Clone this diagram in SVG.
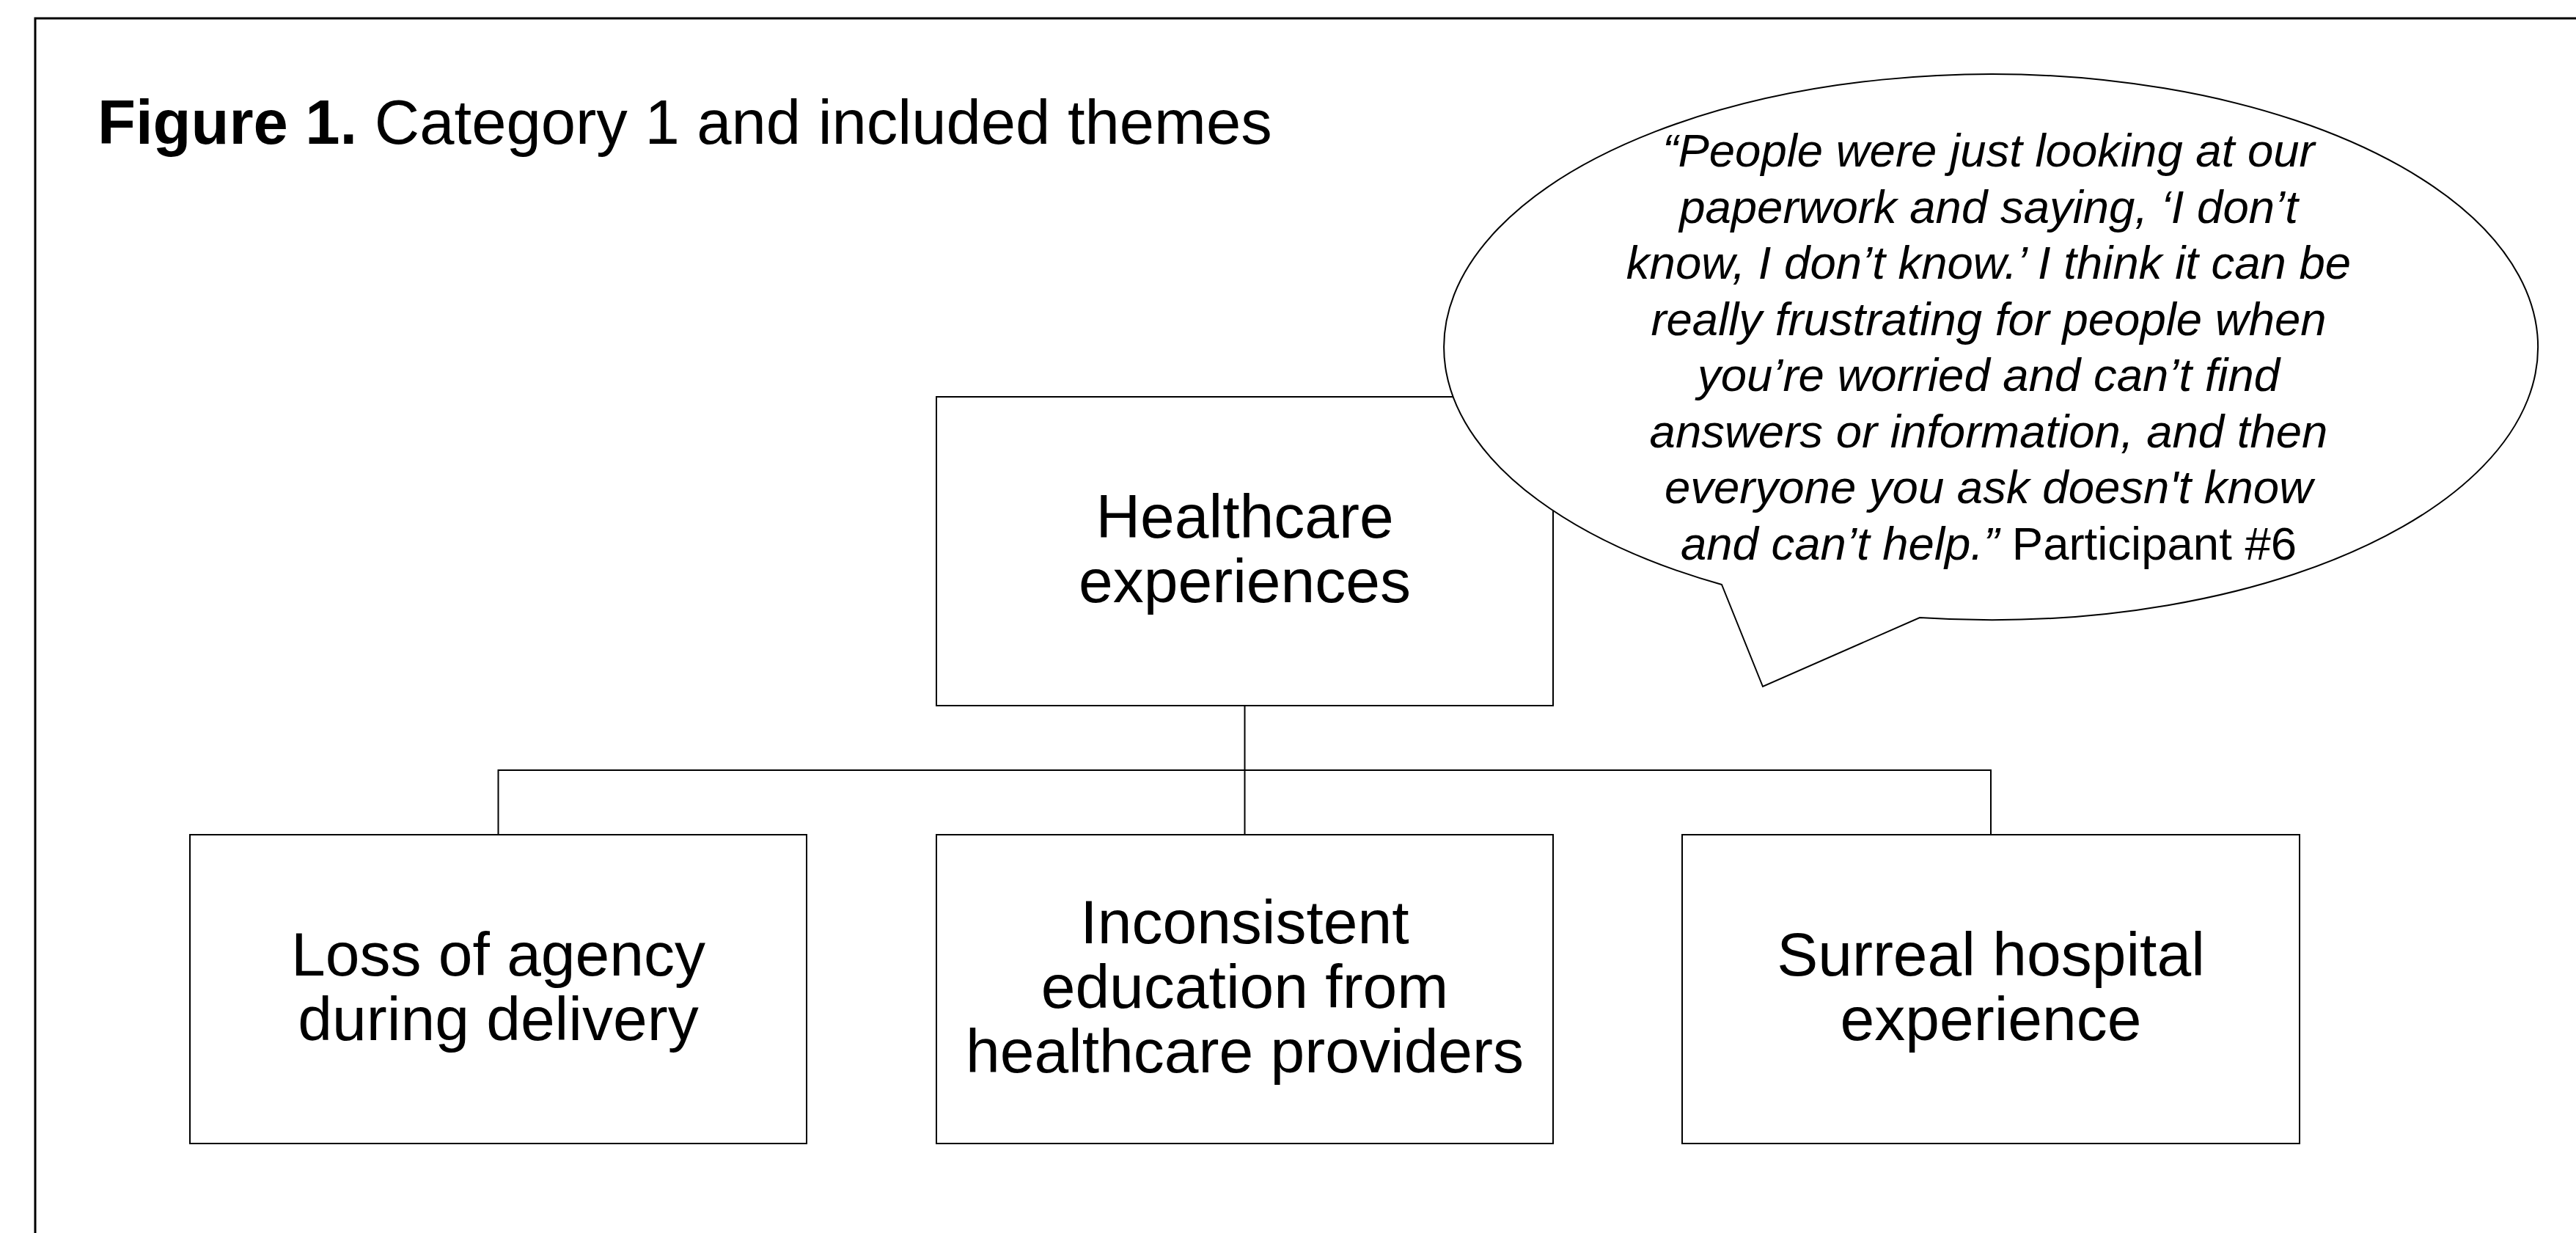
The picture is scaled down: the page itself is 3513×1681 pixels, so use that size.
<svg xmlns="http://www.w3.org/2000/svg" width="3513" height="1681" viewBox="0 0 3513 1681">
  <style>
    .frame { fill: none; stroke: #000; stroke-width: 3; }
    .box { fill: #fff; stroke: #000; stroke-width: 2; }
    .wire { fill: none; stroke: #000; stroke-width: 2; }
    .bubble { fill: #fff; stroke: #000; stroke-width: 2; }
    .label { font-family: "Liberation Sans", Arial, sans-serif; font-size: 84px; fill: #000; text-anchor: middle; }
    .title { font-family: "Liberation Sans", Arial, sans-serif; font-size: 85px; fill: #000; }
    .quote { font-family: "Liberation Sans", Arial, sans-serif; font-size: 63.5px; fill: #000; text-anchor: middle; font-style: italic; }
  </style>

  <rect x="0" y="0" width="3513" height="1681" fill="#fff"/>
  <!-- outer frame (right and bottom edges run past the canvas) -->
  <rect class="frame" x="48" y="25" width="3500" height="1700"/>

  <text class="title" x="133" y="196"><tspan font-weight="bold">Figure 1.</tspan> Category 1 and included themes</text>

  <!-- tree connectors -->
  <g id="connectors">
    <path class="wire" d="M1697.5,962 V1138 M679.5,1138 V1050 H2715 V1138"/>
  </g>

  <g id="node-healthcare">
    <rect class="box" x="1277" y="541" width="841" height="421"/>
    <text class="label" x="1697.5" y="733">Healthcare</text>
    <text class="label" x="1697.5" y="821">experiences</text>
  </g>

  <g id="node-agency">
    <rect class="box" x="259" y="1138" width="841" height="421"/>
    <text class="label" x="679.5" y="1330">Loss of agency</text>
    <text class="label" x="679.5" y="1418">during delivery</text>
  </g>

  <g id="node-education">
    <rect class="box" x="1277" y="1138" width="841" height="421"/>
    <text class="label" x="1697.5" y="1286">Inconsistent</text>
    <text class="label" x="1697.5" y="1374">education from</text>
    <text class="label" x="1697.5" y="1462">healthcare providers</text>
  </g>

  <g id="node-surreal">
    <rect class="box" x="2294" y="1138" width="842" height="421"/>
    <text class="label" x="2715" y="1330">Surreal hospital</text>
    <text class="label" x="2715" y="1418">experience</text>
  </g>

  <!-- speech bubble with participant quote -->
  <g id="node-quote">
    <path class="bubble" d="M2348,797 A746,372 0 1 1 2618,842 L2404,936 Z"/>
    <text class="quote" x="2712" y="227">“People were just looking at our</text>
    <text class="quote" x="2712" y="304">paperwork and saying, ‘I don’t</text>
    <text class="quote" x="2712" y="380">know, I don’t know.’ I think it can be</text>
    <text class="quote" x="2712" y="457">really frustrating for people when</text>
    <text class="quote" x="2712" y="533">you’re worried and can’t find</text>
    <text class="quote" x="2712" y="610">answers or information, and then</text>
    <text class="quote" x="2712" y="686">everyone you ask doesn't know</text>
    <text class="quote" x="2712" y="763">and can’t help.”<tspan font-style="normal"> Participant #6</tspan></text>
  </g>
</svg>
